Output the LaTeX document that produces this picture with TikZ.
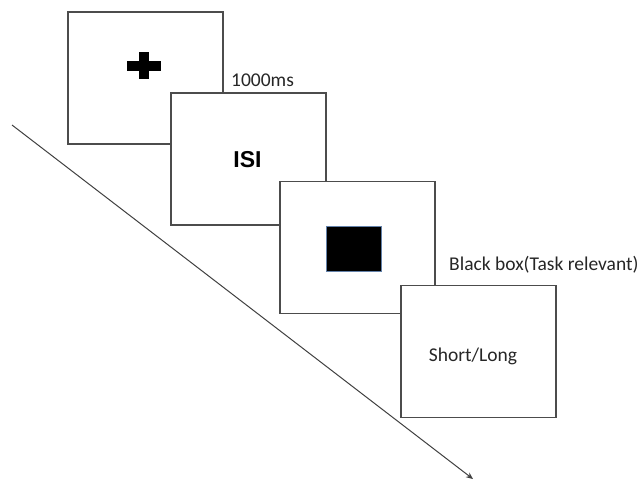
\documentclass[tikz,border=0pt]{standalone}
\usepackage{fontspec}
\setmainfont{Carlito}
\newfontfamily\arialfont{Liberation Sans}
\usetikzlibrary{arrows.meta}
\definecolor{boxedge}{RGB}{100,130,170}
\begin{document}
\begin{tikzpicture}[x=1pt,y=-1pt,
  screen/.style={draw=black!70, line width=1.1pt, fill=white, minimum width=155pt, minimum height=132pt, inner sep=0pt, outer sep=0pt},
  lbl/.style={font=\fontsize{19.5}{22}\selectfont, text=black!85, inner sep=0pt},
  ]
\useasboundingbox (0,0) rectangle (639,480);
% time arrow
\coordinate (tstart) at (12,125);
\coordinate (tend) at (473,479);
\draw[black!75, line width=1pt, -{Stealth[length=7pt,width=6pt]}] (tstart) -- (tend);
% screens
\node[screen] (s1) at (145.5,78) {};
\node[screen] (s2) at (248.5,159) {};
\node[screen] (s3) at (357.5,247.5) {};
\node[screen] (s4) at (478.5,351.5) {};
% fixation cross
\fill[black] (127,61) rectangle (161,71);
\fill[black] (139,52) rectangle (149,79);
\coordinate (cross) at (144,66);
% ISI
\node[inner sep=0pt, font=\arialfont\bfseries\fontsize{23}{25}\selectfont] (isi) at (247.5,159.5) {ISI};
% black box
\node[draw=boxedge, line width=0.8pt, fill=black, minimum width=55pt, minimum height=45pt, inner sep=0pt] (bb) at (353.5,248.5) {};
% labels
\node[lbl, anchor=west] (t1) at (231,80) {1000ms};
\node[lbl, anchor=west] (t3) at (449,265) {Black box(Task relevant)};
\node[lbl] (t4) at (473,356) {Short/Long};
\end{tikzpicture}
\end{document}
